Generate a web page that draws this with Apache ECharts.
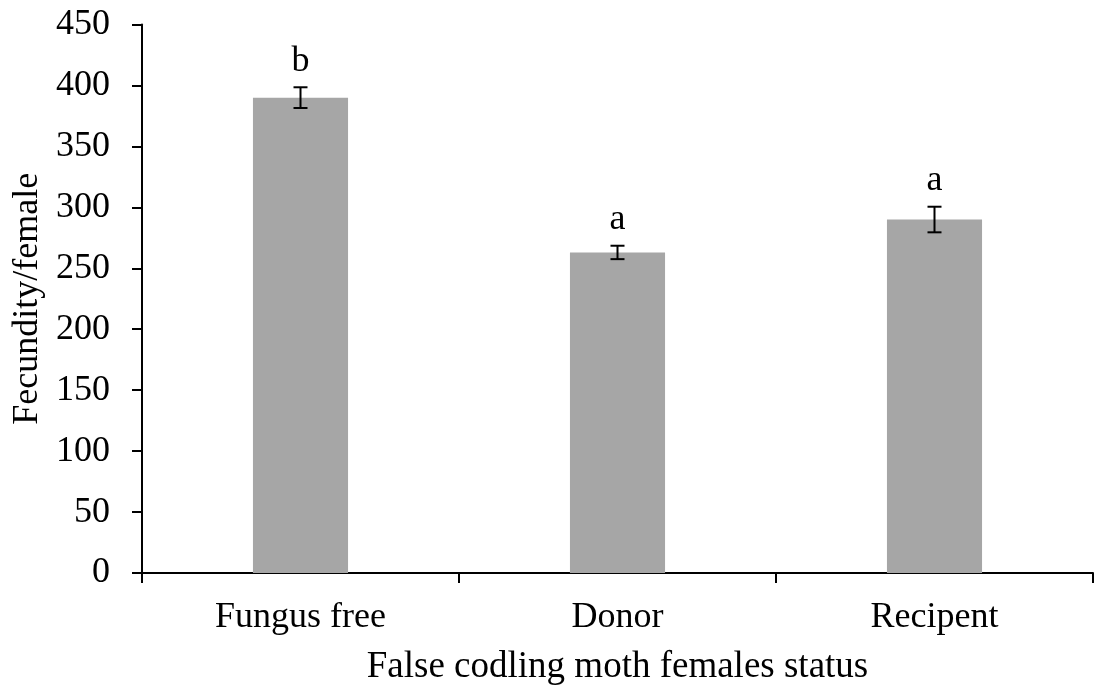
<!DOCTYPE html>
<html><head><meta charset="utf-8">
<script src="https://cdn.jsdelivr.net/npm/echarts@6/dist/echarts.min.js"></script>
<style>html,body{margin:0;padding:0;background:#fff}#c{width:1095px;height:691px}</style>
</head><body><div id="c"></div>
<script>
const categories = ['Fungus free', 'Donor', 'Recipent'];
const means = [390, 263, 290];
const errors = [8.5, 5.5, 10.5];
const letters = ['b', 'a', 'a'];
const yTicks = [0, 50, 100, 150, 200, 250, 300, 350, 400, 450];

const font = '"Liberation Serif", "Times New Roman", serif';
const chart = echarts.init(document.getElementById('c'), null, {renderer: 'canvas'});
chart.setOption({
  animation: false,
  grid: {left: 142, right: 2, top: 24.5, bottom: 118},
  xAxis: {
    type: 'category', data: categories,
    name: 'False codling moth females status', nameLocation: 'middle', nameGap: 76,
    nameTextStyle: {fontFamily: font, fontSize: 37, color: '#000'},
    axisLine: {lineStyle: {color: '#000', width: 2}},
    axisTick: {show: true, length: 10, lineStyle: {color: '#000', width: 2}, alignWithLabel: false},
    axisLabel: {fontFamily: font, fontSize: 36, color: '#000', margin: 27}
  },
  yAxis: {
    type: 'value', min: yTicks[0], max: yTicks[yTicks.length - 1], interval: 50,
    name: 'Fecundity/female', nameLocation: 'middle', nameGap: 96,
    nameTextStyle: {fontFamily: font, fontSize: 36, color: '#000'},
    axisLine: {show: true, lineStyle: {color: '#000', width: 2}},
    axisTick: {show: true, length: 10, lineStyle: {color: '#000', width: 2}},
    axisLabel: {fontFamily: font, fontSize: 36, color: '#000', margin: 32},
    splitLine: {show: false}
  },
  series: [
    {
      type: 'bar', data: means, barWidth: '30%',
      itemStyle: {color: '#A6A6A6'}
    },
    {
      type: 'custom',
      data: means.map((m, i) => [i, m, errors[i], letters[i]]),
      renderItem: function (params, api) {
        const x = api.coord([api.value(0), 0])[0];
        const top = api.coord([api.value(0), api.value(1) + api.value(2)])[1];
        const bot = api.coord([api.value(0), api.value(1) - api.value(2)])[1];
        const hw = 7;
        const st = {stroke: '#000', lineWidth: 2};
        return {
          type: 'group',
          children: [
            {type: 'line', shape: {x1: x, y1: top, x2: x, y2: bot}, style: st},
            {type: 'line', shape: {x1: x - hw, y1: top, x2: x + hw, y2: top}, style: st},
            {type: 'line', shape: {x1: x - hw, y1: bot, x2: x + hw, y2: bot}, style: st},
            {type: 'text', style: {x: x, y: top - 8, text: letters[params.dataIndex], fill: '#000',
              font: '36px ' + font, align: 'center', verticalAlign: 'bottom'}}
          ]
        };
      },
      z: 10
    }
  ]
});
</script></body></html>
